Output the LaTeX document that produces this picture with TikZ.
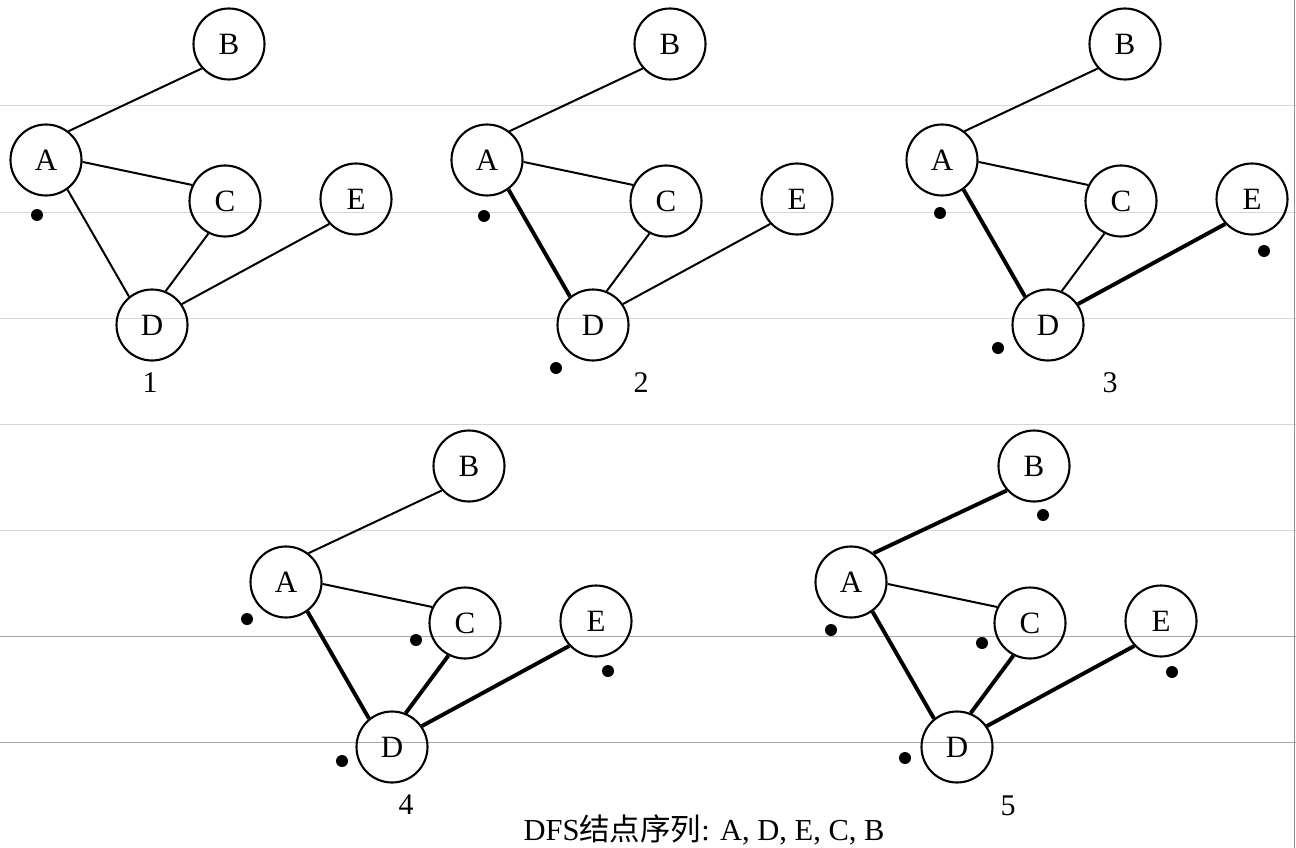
\documentclass[tikz,border=0pt]{standalone}
\usepackage{fontspec}
\setmainfont{Liberation Serif}
\newfontfamily\cjk{Noto Sans CJK SC}
\begin{document}
\begin{tikzpicture}[x=1pt,y=-1pt,
  vtx/.style={circle,draw,line width=2.1pt,minimum size=71pt,inner sep=0pt,font=\fontsize{31}{32}\selectfont},
  thinedge/.style={line width=2pt},
  thickedge/.style={line width=3.9pt},
  visdot/.style={fill=black},
  rulelight/.style={draw=black!16,line width=1pt},
  ruledark/.style={draw=black!35,line width=1pt},
  steplabel/.style={font=\fontsize{30}{31}\selectfont,inner sep=0pt},
  captionlabel/.style={font=\fontsize{30.5}{32}\selectfont,inner sep=0pt}]
\useasboundingbox (0,0) rectangle (1296,848);
% background rules
\foreach \yy in {106,212,318,424,530} \draw[rulelight] (0,\yy) -- (1296,\yy);
\foreach \yy in {636,742} \draw[ruledark] (0,\yy) -- (1296,\yy);
\draw[draw=black!45,line width=1pt] (1294,0) -- (1294,848);
% graph macro: #1 id, #2 dx, #3 dy, #4..#8 styles of AB, AC, AD, CD, DE
\newcommand\placegraph[8]{%
  \begin{scope}[shift={(#2,#3)}]
    \node[vtx] (A#1) at (46,160) {A};
    \node[vtx] (B#1) at (229,44) {B};
    \node[vtx] (C#1) at (225,201) {C};
    \node[vtx] (E#1) at (356,199) {E};
    \node[vtx] (D#1) at (152,325) {D};
  \end{scope}
  \draw[#4] (A#1.52) -- (B#1.222);
  \draw[#5] (A#1.-3) -- (C#1.154);
  \draw[#6] (A#1.-54) -- (D#1.129);
  \draw[#7] (C#1.243) -- (D#1.68);
  \draw[#8] (D#1.35) -- (E#1.223);}
% panel 1
\placegraph{1}{0}{0}{thinedge}{thinedge}{thinedge}{thinedge}{thinedge}
\fill[visdot] (37,215) circle (6);
\node[steplabel] (L1) at (150,383) {1};
% panel 2
\placegraph{2}{441}{0}{thinedge}{thinedge}{thickedge}{thinedge}{thinedge}
\fill[visdot] (484,216) circle (6);
\fill[visdot] (556,368) circle (6);
\node[steplabel] (L2) at (641,383) {2};
% panel 3
\placegraph{3}{896}{0}{thinedge}{thinedge}{thickedge}{thinedge}{thickedge}
\fill[visdot] (940,213) circle (6);
\fill[visdot] (1264,251) circle (6);
\fill[visdot] (998,348) circle (6);
\node[steplabel] (L3) at (1110,383) {3};
% panel 4
\placegraph{4}{240}{422}{thinedge}{thinedge}{thickedge}{thickedge}{thickedge}
\fill[visdot] (247,619) circle (6);
\fill[visdot] (416,640) circle (6);
\fill[visdot] (608,671) circle (6);
\fill[visdot] (342,761) circle (6);
\node[steplabel] (L4) at (406,805) {4};
% panel 5
\placegraph{5}{805}{422}{thickedge}{thinedge}{thickedge}{thickedge}{thickedge}
\fill[visdot] (1043,515) circle (6);
\fill[visdot] (831,630) circle (6);
\fill[visdot] (982,643) circle (6);
\fill[visdot] (1172,672) circle (6);
\fill[visdot] (905,758) circle (6);
\node[steplabel] (L5) at (1008,806) {5};
% caption
\node[captionlabel] (cap) at (704,830) {DFS{\cjk 结点序列}: A, D, E, C, B};
\end{tikzpicture}
\end{document}
